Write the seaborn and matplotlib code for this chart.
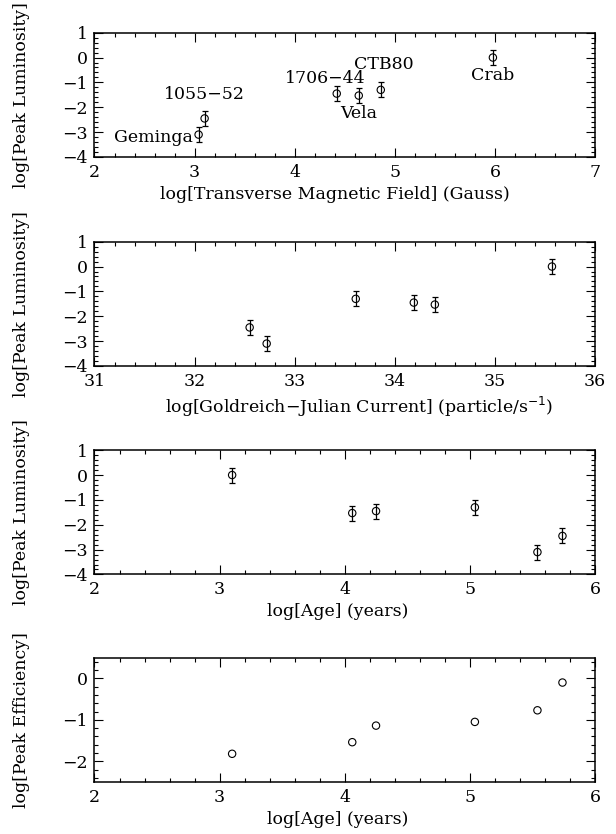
import matplotlib
matplotlib.use("Agg")
import matplotlib.pyplot as plt
import seaborn as sns
import pandas as pd
from matplotlib.ticker import MultipleLocator

# ---- data ----
names = ["Crab", "Vela", "1706−44", "CTB80", "Geminga", "1055−52"]
log_bt = [5.98, 4.64, 4.42, 4.86, 3.04, 3.10]
log_gj = [35.57, 34.40, 34.19, 33.61, 32.72, 32.55]
log_age = [3.10, 4.06, 4.25, 5.04, 5.54, 5.74]
log_lum = [0.0, -1.53, -1.45, -1.30, -3.10, -2.45]
lum_err = [0.3, 0.3, 0.3, 0.3, 0.3, 0.3]
log_eff = [-1.82, -1.54, -1.14, -1.05, -0.77, -0.10]

df = pd.DataFrame({"name": names, "bt": log_bt, "gj": log_gj, "age": log_age,
                   "lum": log_lum, "err": lum_err, "eff": log_eff})

sns.set_theme(style="ticks")
plt.rcParams["font.family"] = ["DejaVu Serif"]
plt.rcParams["axes.unicode_minus"] = True
for k in ["text.color", "axes.labelcolor", "xtick.color", "ytick.color",
          "xtick.labelcolor", "ytick.labelcolor"]:
    plt.rcParams[k] = "black"

FS = 12.5
fig = plt.figure(figsize=(6.16, 8.34), dpi=100)

left, width, h = 0.1534, 0.8125, 0.149
bottoms = [0.8118, 0.5612, 0.3112, 0.0624]
axes = [fig.add_axes([left, b, width, h]) for b in bottoms]

def style(ax, xlim, ylim, ymajor):
    ax.set_xlim(*xlim)
    ax.set_ylim(*ylim)
    ax.xaxis.set_major_locator(MultipleLocator(1))
    ax.xaxis.set_minor_locator(MultipleLocator(0.2))
    ax.yaxis.set_major_locator(MultipleLocator(ymajor))
    ax.yaxis.set_minor_locator(MultipleLocator(0.2))
    ax.tick_params(which="both", direction="in", top=True, right=True,
                   colors="black", labelsize=FS, pad=5)
    ax.tick_params(which="major", length=6.5, width=0.8)
    ax.tick_params(which="minor", length=3.2, width=0.8)
    for s in ax.spines.values():
        s.set_linewidth(1.1)
        s.set_color("black")
    ax.set_facecolor("white")

def points(ax, xcol, ycol, errs=True):
    if errs:
        ax.errorbar(df[xcol], df[ycol], yerr=df["err"], fmt="none",
                    ecolor="black", elinewidth=0.9, capsize=1.9, capthick=0.9)
    sns.scatterplot(data=df, x=xcol, y=ycol, ax=ax, s=28, marker="o",
                    facecolor="none", edgecolor="black", linewidth=0.8,
                    legend=False, zorder=3)

# Panel 1
ax = axes[0]
points(ax, "bt", "lum")
style(ax, (2, 7), (-4, 1), 1)
ax.set_xlabel("log[Transverse Magnetic Field] (Gauss)", fontsize=FS)
offsets = {"Crab": (0, -18, "center"), "Vela": (0, -18, "center"),
           "1706−44": (-11, 15, "center"), "CTB80": (3.5, 25, "center"),
           "Geminga": (-6, -3, "right"), "1055−52": (0, 24, "center")}
for n, x, y in zip(df["name"], df["bt"], df["lum"]):
    dx, dy, ha = offsets[n]
    ax.annotate(n, (x, y), xytext=(dx * 0.72, dy * 0.72), textcoords="offset points",
                ha=ha, va="center", fontsize=FS, color="black")

# Panel 2
ax = axes[1]
points(ax, "gj", "lum")
style(ax, (31, 36), (-4, 1), 1)
ax.set_xlabel("log[Goldreich−Julian Current] (particle/s$^{-1}$)", fontsize=FS)

# Panel 3
ax = axes[2]
points(ax, "age", "lum")
style(ax, (2, 6), (-4, 1), 1)
ax.set_xlabel("log[Age] (years)", fontsize=FS)

# Panel 4
ax = axes[3]
points(ax, "age", "eff", errs=False)
style(ax, (2, 6), (-2.5, 0.5), 1)
ax.set_xlabel("log[Age] (years)", fontsize=FS)

xcenters = [0.48, 0.528, 0.485, 0.485]
for ax, xc in zip(axes, xcenters):
    ax.xaxis.set_label_coords(xc, -0.23)
    ax.xaxis.label.set_va("top")
for ax, lab in zip(axes, ["log[Peak Luminosity]"] * 3 + ["log[Peak Efficiency]"]):
    ax.set_ylabel(lab, fontsize=FS)
    ax.yaxis.set_label_coords(-0.128, 0.5)

fig.savefig("out.png", dpi=100, facecolor="white")
